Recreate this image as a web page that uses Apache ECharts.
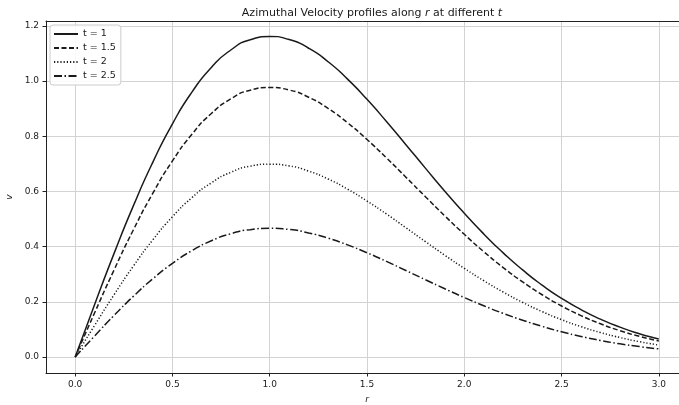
<!DOCTYPE html>
<html>
<head>
<meta charset="utf-8">
<script src="https://cdn.jsdelivr.net/npm/echarts@6/dist/echarts.min.js"></script>
<style>
  html, body { margin: 0; padding: 0; background: #fff; }
  #chart { width: 679px; height: 405px; }
</style>
</head>
<body>
<div id="chart"></div>
<script>
// radial positions r
var rValues = [0.0, 0.1, 0.2, 0.3, 0.4, 0.5, 0.6, 0.7, 0.8, 0.9, 1.0,
  1.1, 1.2, 1.3, 1.4, 1.5, 1.6, 1.7, 1.8, 1.9, 2.0,
  2.1, 2.2, 2.3, 2.4, 2.5, 2.6, 2.7, 2.8, 2.9, 3.0]

// azimuthal velocity v
var vT1 = [0, 0.1906, 0.3756, 0.5495, 0.7074, 0.8454, 0.9601, 1.0497, 1.1129, 1.1501, 1.1620,
  1.1508, 1.1193, 1.0703, 1.0074, 0.9341, 0.8538, 0.7697, 0.6847, 0.6011, 0.5212,
  0.4462, 0.3775, 0.3156, 0.2606, 0.2128, 0.1718, 0.1371, 0.1082, 0.0844, 0.0651]
var vT15 = [0, 0.1603, 0.3158, 0.4620, 0.5948, 0.7108, 0.8073, 0.8826, 0.9357, 0.9670, 0.9770,
  0.9678, 0.9416, 0.9011, 0.8491, 0.7883, 0.7218, 0.6519, 0.5812, 0.5116, 0.4448,
  0.3820, 0.3243, 0.2721, 0.2257, 0.1850, 0.1501, 0.1204, 0.0955, 0.0749, 0.0582]
var vT2 = [0, 0.1147, 0.2259, 0.3305, 0.4256, 0.5085, 0.5776, 0.6314, 0.6695, 0.6918, 0.6990,
  0.6925, 0.6739, 0.6453, 0.6084, 0.5654, 0.5183, 0.4687, 0.4185, 0.3690, 0.3214,
  0.2767, 0.2355, 0.1980, 0.1647, 0.1354, 0.1102, 0.0887, 0.0706, 0.0556, 0.0433]
var vT25 = [0, 0.0765, 0.1508, 0.2206, 0.2840, 0.3394, 0.3855, 0.4214, 0.4468, 0.4617, 0.4665,
  0.4622, 0.4498, 0.4309, 0.4064, 0.3779, 0.3465, 0.3135, 0.2802, 0.2473, 0.2156,
  0.1858, 0.1583, 0.1333, 0.1110, 0.0914, 0.0745, 0.0600, 0.0478, 0.0378, 0.0294]

var seriesNames = ['t = 1', 't = 1.5', 't = 2', 't = 2.5']
var xTicks = [0, 0.5, 1, 1.5, 2, 2.5, 3]
var yTicks = [0, 0.2, 0.4, 0.6, 0.8, 1.0, 1.2]

var FONT = 'DejaVu Sans'
var INK = '#1a1a1a'

function pairs(ys) {
  return rValues.map(function (r, i) { return [r, ys[i]] })
}

function makeSeries(name, ys, dash) {
  return {
    name: name,
    type: 'line',
    data: pairs(ys),
    smooth: 0.6,
    symbol: 'none',
    animation: false,
    lineStyle: { color: INK, width: 1.5, type: dash },
    itemStyle: { color: INK }
  }
}

var myChart = echarts.init(document.getElementById('chart'), null, { renderer: 'canvas' })
var option = {
  backgroundColor: '#fff',
  animation: false,
  title: {
    text: '{a|Azimuthal Velocity profiles along }{i|r}{a| at different }{i|t}',
    left: 367,
    top: 3,
    textAlign: 'center',
    textStyle: {
      fontWeight: 'normal',
      rich: {
        a: { fontFamily: FONT, fontSize: 11, fontWeight: 'normal', color: INK },
        i: { fontFamily: FONT, fontSize: 11, fontWeight: 'normal', color: INK, fontStyle: 'italic' }
      }
    }
  },
  grid: { left: 46, top: 21, width: 642, height: 352, outerBoundsMode: 'none', containLabel: false },
  legend: {
    orient: 'vertical',
    left: 50,
    top: 25,
    padding: [4, 5, 4, 3],
    itemWidth: 24,
    itemHeight: 10,
    itemGap: 4,
    backgroundColor: 'rgba(255,255,255,0.85)',
    borderColor: '#cccccc',
    borderWidth: 1,
    borderRadius: 3,
    itemStyle: { color: 'rgba(0,0,0,0)', borderColor: 'rgba(0,0,0,0)', borderWidth: 0 },
    textStyle: { fontFamily: FONT, fontSize: 9.5, color: INK },
    data: seriesNames
  },
  xAxis: [{
    type: 'value',
    min: -0.15,
    max: 3.15,
    name: 'r',
    nameLocation: 'middle',
    nameGap: 22,
    nameTextStyle: { fontFamily: FONT, fontSize: 9, fontStyle: 'italic', color: INK },
    axisLine: { onZero: false, lineStyle: { color: '#222', width: 1 } },
    axisTick: { show: true, length: 3.5, customValues: xTicks, lineStyle: { color: '#222' } },
    axisLabel: {
      customValues: xTicks,
      margin: 7,
      fontFamily: FONT, fontSize: 9, color: INK,
      formatter: function (v) { return v.toFixed(1) }
    },
    splitLine: { show: true, lineStyle: { color: '#d3d3d3', width: 1 } }
  }, {
    // top spine only
    type: 'value',
    position: 'top',
    min: -0.15,
    max: 3.15,
    axisLine: { show: true, onZero: false, lineStyle: { color: '#222', width: 1 } },
    axisTick: { show: false },
    axisLabel: { show: false },
    splitLine: { show: false }
  }],
  yAxis: {
    type: 'value',
    min: -0.058,
    max: 1.218,
    name: 'v',
    nameLocation: 'middle',
    nameGap: 31,
    nameRotate: 90,
    nameTextStyle: { fontFamily: FONT, fontSize: 9, fontStyle: 'italic', color: INK },
    axisLine: { show: true, onZero: false, lineStyle: { color: '#222', width: 1 } },
    axisTick: { show: true, length: 3.5, customValues: yTicks, lineStyle: { color: '#222' } },
    axisLabel: {
      customValues: yTicks,
      margin: 7,
      fontFamily: FONT, fontSize: 9, color: INK,
      formatter: function (v) { return v.toFixed(1) }
    },
    splitLine: { show: true, lineStyle: { color: '#d3d3d3', width: 1 } }
  },
  series: [
    makeSeries(seriesNames[0], vT1, 'solid'),
    makeSeries(seriesNames[1], vT15, [5, 2.5]),
    makeSeries(seriesNames[2], vT2, [1.2, 2]),
    makeSeries(seriesNames[3], vT25, [8, 2.5, 1.5, 2.5])
  ]
}
myChart.setOption(option)
</script>
</body>
</html>
